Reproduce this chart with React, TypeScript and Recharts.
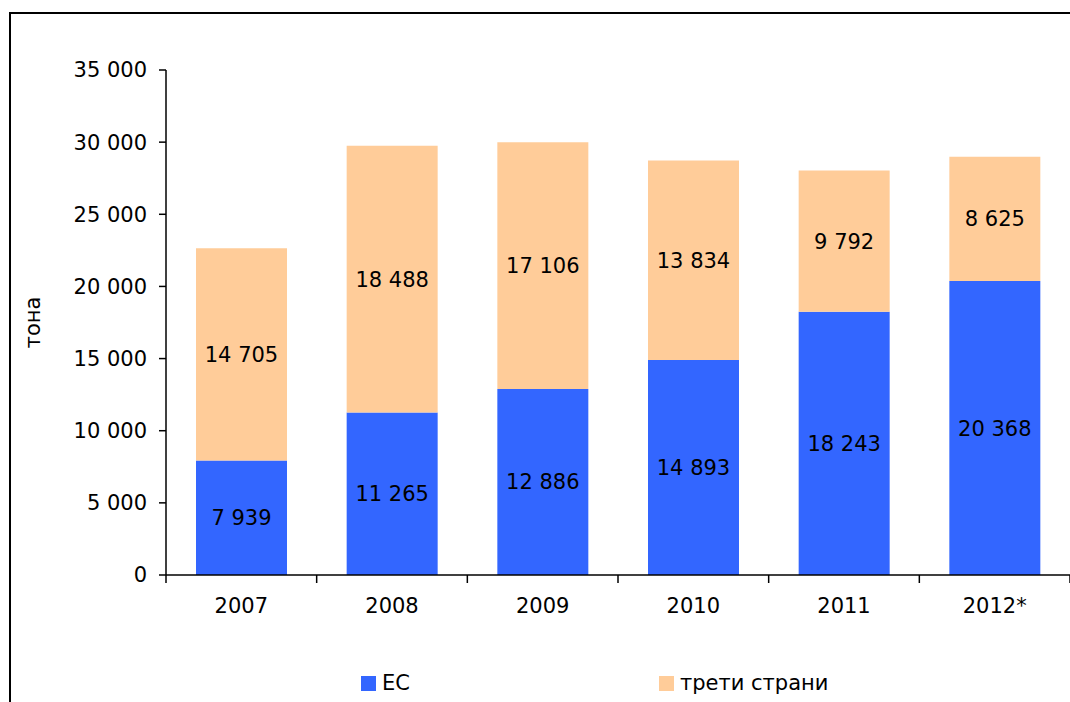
import React from "react";
import { BarChart, Bar, XAxis, YAxis, Legend, LabelList } from "recharts";

const categories = ["2007", "2008", "2009", "2010", "2011", "2012*"];
const euValues = [7939, 11265, 12886, 14893, 18243, 20368];
const thirdValues = [14705, 18488, 17106, 13834, 9792, 8625];
const yTicks = [0, 5000, 10000, 15000, 20000, 25000, 30000, 35000];
const seriesNames = { eu: "ЕС", third: "трети страни" };
const colors = { eu: "#3366FF", third: "#FFCC99" };

const data = categories.map((c, i) => ({ cat: c, eu: euValues[i], third: thirdValues[i] }));

const FONT = "'DejaVu Sans', Verdana, sans-serif";
const CHART_W = 1070;
const CHART_H = 702;
const Y_AXIS_W = 166;
const BAND_HALF = (CHART_W - Y_AXIS_W) / categories.length / 2;

const fmt = (v: any) => String(v).replace(/\B(?=(\d{3})+(?!\d))/g, " ");

const XTick = (props: any) => {
  const { x, y, payload, index } = props;
  return (
    <g>
      <line x1={x - BAND_HALF} y1={y} x2={x - BAND_HALF} y2={y + 8} stroke="#000" strokeWidth={1.5} />
      {index === categories.length - 1 && (
        <line x1={x + BAND_HALF} y1={y} x2={x + BAND_HALF} y2={y + 8} stroke="#000" strokeWidth={1.5} />
      )}
      <text x={x} y={y + 31} textAnchor="middle" dominantBaseline="central" fontSize={21} fontFamily={FONT} fill="#000">
        {payload.value}
      </text>
    </g>
  );
};

const LegendContent = () => (
  <div style={{ display: "flex", paddingLeft: 361, fontFamily: FONT, fontSize: 21, color: "#000" }}>
    {[
      { name: seriesNames.eu, color: colors.eu },
      { name: seriesNames.third, color: colors.third },
    ].map((it, i) => (
      <div key={i} style={{ display: "flex", alignItems: "center", width: i === 0 ? 298 : 300 }}>
        <span style={{ display: "inline-block", width: 15, height: 15, background: it.color, marginRight: 6 }} />
        <span>{it.name}</span>
      </div>
    ))}
  </div>
);

export default function App() {
  return (
    <div style={{ position: "absolute", left: 0, top: 0, width: CHART_W, height: CHART_H, overflow: "hidden", background: "#fff" }}>
      <div
        style={{
          position: "absolute",
          left: 9,
          top: 12,
          width: 1200,
          height: 800,
          border: "2px solid #000",
          boxSizing: "border-box",
        }}
      />
      <div style={{ position: "absolute", left: 0, top: 0 }}>
        <BarChart
          width={CHART_W}
          height={CHART_H}
          data={data}
          margin={{ top: 70, right: 0, bottom: 43, left: 0 }}
          barSize={91}
        >
          <XAxis
            dataKey="cat"
            tick={<XTick />}
            tickLine={false}
            tickSize={0}
            tickMargin={0}
            height={60}
            axisLine={{ stroke: "#000", strokeWidth: 1.5 }}
            interval={0}
          />
          <YAxis
            width={Y_AXIS_W}
            domain={[0, 35000]}
            ticks={yTicks}
            tickFormatter={fmt}
            tickSize={7}
            tickMargin={12}
            tick={{ fontSize: 21, fontFamily: FONT, fill: "#000" }}
            tickLine={{ stroke: "#000", strokeWidth: 1.5 }}
            axisLine={{ stroke: "#000", strokeWidth: 1.5 }}
            allowDataOverflow
            label={{
              content: (p: any) => {
                const vb = p.viewBox || { x: 0, y: 70, height: 504 };
                const cx = vb.x + 33;
                const cy = vb.y + vb.height / 2;
                return (
                  <text
                    x={cx}
                    y={cy}
                    transform={`rotate(-90, ${cx}, ${cy})`}
                    textAnchor="middle"
                    dominantBaseline="central"
                    fontSize={21}
                    fontFamily={FONT}
                    fill="#000"
                  >
                    тона
                  </text>
                );
              },
            }}
          />
          <Legend
            content={<LegendContent />}
            wrapperStyle={{ position: "absolute", left: 0, top: 671, width: CHART_W }}
          />
          <Bar dataKey="eu" stackId="a" name={seriesNames.eu} fill={colors.eu} isAnimationActive={false}>
            <LabelList dataKey="eu" position="center" formatter={fmt} fill="#000" fontSize={21} fontFamily={FONT} />
          </Bar>
          <Bar dataKey="third" stackId="a" name={seriesNames.third} fill={colors.third} isAnimationActive={false}>
            <LabelList dataKey="third" position="center" formatter={fmt} fill="#000" fontSize={21} fontFamily={FONT} />
          </Bar>
        </BarChart>
      </div>
    </div>
  );
}
